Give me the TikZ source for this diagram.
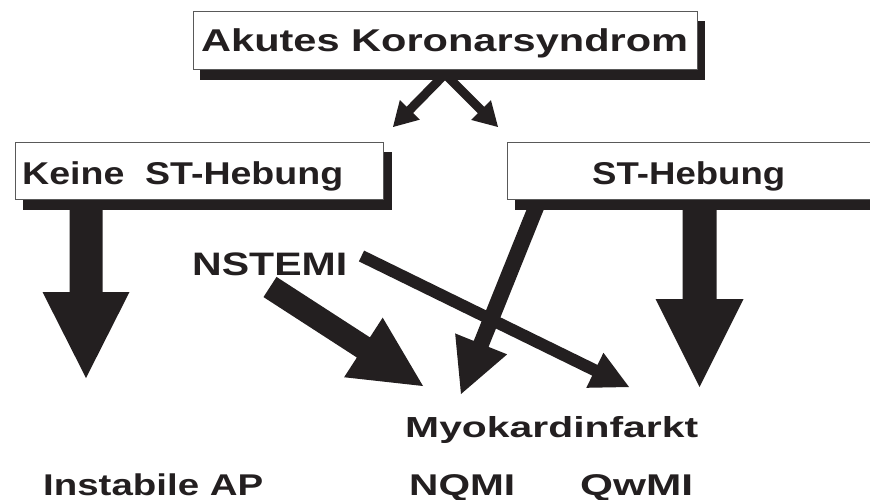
\documentclass[tikz,border=0pt]{standalone}
\usepackage{fontspec}
\setmainfont{Liberation Sans}
\usetikzlibrary{calc}
\definecolor{ink}{RGB}{35,31,32}
% block arrow: #1 from, #2 tip, #3 half shaft width, #4 head length, #5 half head width
\newcommand\blockarrow[5]{%
  \coordinate (bah) at ($(#2)!#4!(#1)$);
  \fill[ink] ($(#1)!#3!90:(#2)$) -- ($(bah)!#3!90:(#2)$) -- ($(bah)!#5!90:(#2)$)
    -- (#2) -- ($(bah)!#5!-90:(#2)$) -- ($(bah)!#3!-90:(#2)$) -- ($(#1)!#3!-90:(#2)$) -- cycle;}
\newcommand\fitw[2]{\resizebox{#1}{\height}{#2}}
\begin{document}
\begin{tikzpicture}[x=1pt,y=-1pt,
  lab/.style={inner sep=0pt, anchor=base west, text=ink},
  f29/.style={font=\bfseries\fontsize{29}{30}\selectfont},
  f30/.style={font=\bfseries\fontsize{30}{31}\selectfont},
  f31/.style={font=\bfseries\fontsize{31.5}{32}\selectfont},
  f32/.style={font=\bfseries\fontsize{32.5}{33}\selectfont},
  box/.style={draw=black!65, line width=0.9pt, fill=white, inner sep=0pt, anchor=north west},
  shadow/.style={fill=ink}]
\useasboundingbox (0,0) rectangle (870,500);
% arrow coordinates
\coordinate (a1s) at (445,74);
\coordinate (a1t) at (393,127);
\coordinate (a2t) at (498,127);
\coordinate (a3s) at (86,203);
\coordinate (a3t) at (86,378);
\coordinate (a4s) at (699.5,203);
\coordinate (a4t) at (699.5,387);
\coordinate (a5s) at (270,287);
\coordinate (a5t) at (423,386);
\coordinate (a6s) at (361.5,256);
\coordinate (a6t) at (629,387);
\coordinate (a7s) at (539,200);
\coordinate (a7t) at (461,394);
% arrows
\blockarrow{a1s}{a1t}{4.5pt}{24pt}{14pt}
\blockarrow{a1s}{a2t}{4.5pt}{24pt}{14pt}
\blockarrow{a3s}{a3t}{16.5pt}{86pt}{43.5pt}
\blockarrow{a4s}{a4t}{17pt}{88pt}{44pt}
\blockarrow{a5s}{a5t}{12pt}{71pt}{35.5pt}
\blockarrow{a6s}{a6t}{6pt}{38pt}{19.5pt}
\blockarrow{a7s}{a7t}{8pt}{54pt}{28pt}
% boxes with shadows
\node[box, minimum width=504pt, minimum height=58pt] (acsbox) at (193,11) {};
\fill[shadow] ($(acsbox.north west)+(7,10)$) rectangle ($(acsbox.south east)+(7,10)$);
\node[box, minimum width=504pt, minimum height=58pt] (acsbox2) at (193,11) {};
\node[box, minimum width=368pt, minimum height=57pt] (kbox) at (15,142) {};
\fill[shadow] ($(kbox.north west)+(8,10)$) rectangle ($(kbox.south east)+(8,10)$);
\node[box, minimum width=368pt, minimum height=57pt] (kbox2) at (15,142) {};
\node[box, minimum width=380pt, minimum height=57pt] (sbox) at (507,142) {};
\fill[shadow] ($(sbox.north west)+(8,10)$) rectangle ($(sbox.south east)+(8,10)$);
\node[box, minimum width=380pt, minimum height=57pt] (sbox2) at (507,142) {};
% texts
\node[lab, f31] (acs) at (201,52) {\fitw{487pt}{Akutes Koronarsyndrom}};
\node[lab, f31] (keine) at (22,185) {\fitw{321pt}{Keine\hspace{0.55em}ST-Hebung}};
\node[lab, f31] (st) at (592,184.5) {\fitw{193pt}{ST-Hebung}};
\node[lab, f32] (nstemi) at (192,275) {\fitw{155pt}{NSTEMI}};
\node[lab, f29] (mi) at (405,437) {\fitw{293pt}{Myokardinfarkt}};
\node[lab, f30] (iap) at (43,495) {\fitw{220pt}{Instabile AP}};
\node[lab, f30] (nqmi) at (409,495) {\fitw{106pt}{NQMI}};
\node[lab, f30] (qwmi) at (580,495) {\fitw{113pt}{QwMI}};
\end{tikzpicture}
\end{document}
